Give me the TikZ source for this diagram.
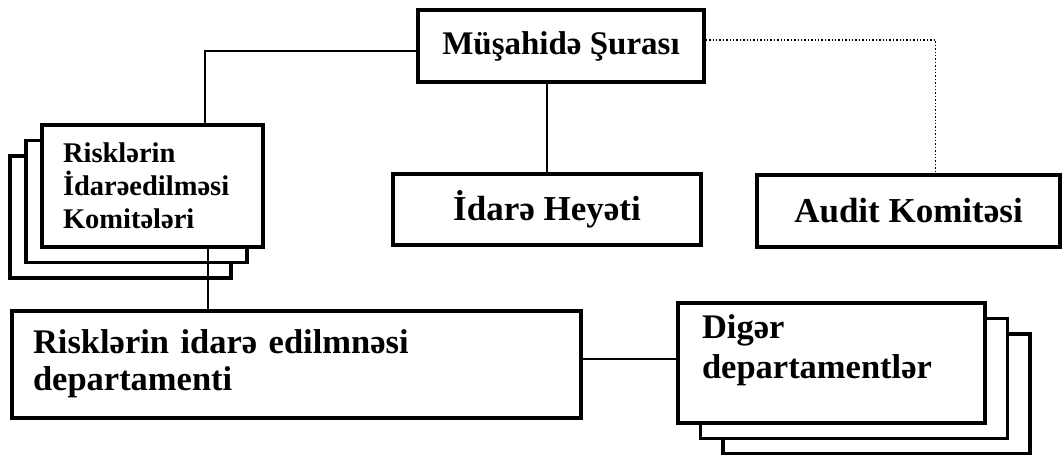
\documentclass[tikz,border=0pt]{standalone}
\usepackage{fontspec}
\setmainfont{Liberation Serif}
\tikzset{
  box/.style={draw, line width=3.5pt, fill=white, inner sep=0pt},
  link/.style={line width=1.4pt},
  big/.style={font=\bfseries\fontsize{35}{40}\selectfont},
}
\begin{document}
\begin{tikzpicture}[x=1pt,y=-1pt]
  \useasboundingbox (0,0) rectangle (1063,455);
  \node [box, minimum width=286pt, minimum height=72pt, font=\bfseries\fontsize{33}{38}\selectfont] (ms) at (561,46) {Müşahidə Şurası};
  \node [box, big, minimum width=308pt, minimum height=71pt] (ih) at (547,209.5) {İdarə Heyəti};
  \node [box, big, minimum width=303pt, minimum height=72pt] (ak) at (908.5,211) {Audit Komitəsi};
  \foreach \i in {2,1}
    \node [box, minimum width=221pt, minimum height=122pt] (rik\i) at (152.5-16*\i,186+15.5*\i) {};
  \node [box, minimum width=221pt, minimum height=122pt, text width=179pt, align=left,
    text height=20pt, text depth=68pt,
    font=\bfseries\fontsize{28.5}{33}\selectfont] (rik) at (152.5,186) {Risklərin\\İdarəedilməsi\\Komitələri};
  \node [box, minimum width=569pt, minimum height=107pt, text width=527pt, align=left,
    text height=24pt, text depth=47pt,
    font=\bfseries\fontsize{34.5}{37}\selectfont] (rid) at (296.5,364.5) {Risklərin idarə edilmnəsi\\departamenti};
  \foreach \i in {2,1}
    \node [box, minimum width=307pt, minimum height=120pt] (dd\i) at (831.5+22.5*\i,363+15.5*\i) {};
  \node [box, minimum width=307pt, minimum height=120pt, text width=259pt, align=left,
    text height=24pt, text depth=74pt,
    font=\bfseries\fontsize{34.5}{40}\selectfont] (dd) at (831.5,363) {Digər\\departamentlər};
  \draw [link] ([yshift=-5pt]ms.west) -| ([xshift=52.5pt]rik.north);
  \draw [link] ([xshift=55.5pt]rik.south) -- ([xshift=55.5pt]rik.south |- rid.north);
  \draw [link] (ih.north) -- (ih.north |- ms.south);
  \draw [link, dotted] ([yshift=6pt]ms.east) -| ([xshift=27pt]ak.north);
  \draw [link] ([yshift=5.5pt]rid.east) -- ([yshift=5.5pt]rid.east -| dd.west);
\end{tikzpicture}
\end{document}
